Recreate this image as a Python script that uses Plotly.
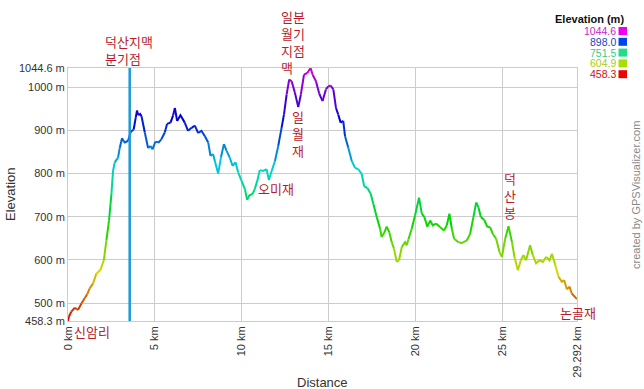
import plotly.graph_objects as go

# ---------------- data ----------------
dist_km = [0.00, 0.05, 0.19, 0.39, 0.50, 0.58, 0.77, 0.96, 1.10, 1.25, 1.44, 1.63, 1.87, 2.06, 2.21, 2.36,
           2.50, 2.59, 2.69, 2.88, 2.98, 3.11, 3.20, 3.27, 3.46, 3.61, 3.78, 3.90, 3.97, 4.05, 4.15, 4.23,
           4.42, 4.61, 4.75, 4.86, 5.03, 5.22, 5.38, 5.57, 5.70, 5.90, 6.05, 6.15, 6.28, 6.47, 6.72, 6.91,
           7.11, 7.30, 7.49, 7.68, 7.87, 8.07, 8.20, 8.35, 8.45, 8.64, 8.80, 8.97, 9.12, 9.31, 9.47, 9.64,
           9.79, 9.99, 10.18, 10.31, 10.43, 10.62, 10.75, 10.89, 11.04, 11.23, 11.43, 11.56, 11.72, 11.91,
           12.10, 12.29, 12.43, 12.58, 12.73, 12.87, 13.06, 13.25, 13.40, 13.58, 13.77, 13.96, 14.08, 14.27,
           14.46, 14.65, 14.84, 14.98, 15.11, 15.27, 15.42, 15.55, 15.69, 15.84, 15.94, 16.13, 16.33, 16.52,
           16.71, 16.90, 17.05, 17.22, 17.42, 17.57, 17.77, 17.96, 18.05, 18.19, 18.34, 18.49, 18.63, 18.76,
           18.92, 19.05, 19.21, 19.40, 19.49, 19.59, 19.78, 19.97, 20.20, 20.36, 20.51, 20.68, 20.84, 20.99,
           21.18, 21.41, 21.64, 21.80, 21.95, 22.09, 22.22, 22.47, 22.66, 22.95, 23.14, 23.33, 23.49, 23.62,
           23.76, 23.95, 24.14, 24.29, 24.45, 24.64, 24.83, 24.97, 25.16, 25.35, 25.55, 25.69, 25.89, 26.06,
           26.21, 26.36, 26.59, 26.75, 26.94, 27.13, 27.33, 27.52, 27.71, 27.85, 28.04, 28.23, 28.42, 28.55,
           28.71, 28.86, 28.99, 29.24, 29.292]
elev_m = [458.3, 468, 480, 489, 486, 484, 499, 511, 520, 534, 545, 568, 577, 599, 645, 691,
          753, 806, 826, 837, 860, 882, 875, 872, 876, 897, 902, 930, 946, 935, 938, 933,
          895, 859, 864, 856, 874, 872, 880, 895, 915, 918, 935, 952, 922, 935, 918, 899,
          906, 911, 894, 899, 887, 872, 841, 845, 829, 800, 837, 868, 853, 837, 818, 826,
          803, 783, 764, 739, 749, 753, 764, 783, 808, 806, 810, 785, 806, 829,
          864, 906, 937, 983, 1018, 1014, 987, 954, 983, 1029, 1033, 1044.6, 1029, 1014,
          985, 968, 995, 1002, 1004, 995, 952, 937, 918, 922, 887, 860, 829, 813,
          810, 799, 770, 767, 753, 730, 699, 672, 653, 662, 677, 664, 641, 626,
          595, 599, 630, 641, 634, 647, 672, 703, 744, 707, 699, 677, 691, 680,
          684, 676, 668, 680, 707, 672, 649, 641, 639, 645, 660, 699, 733, 722,
          699, 693, 676, 676, 660, 649, 618, 607, 649, 678, 641, 607, 576, 599,
          611, 599, 634, 611, 592, 599, 595, 607, 599, 614, 588, 561, 549, 553,
          532, 538, 522, 511, 509]

elev_min, elev_max = 458.3, 1044.6
total_km = 29.292
x_tickvals = [0, 5, 10, 15, 20, 25, total_km]
x_ticktext = ["0 km", "5 km", "10 km", "15 km", "20 km", "25 km", "29.292 km"]
y_tickvals = [elev_min, 500, 600, 700, 800, 900, 1000, elev_max]
y_ticktext = ["458.3 m", "500 m", "600 m", "700 m", "800 m", "900 m", "1000 m", "1044.6 m"]

legend_values = ["1044.6", "898.0", "751.5", "604.9", "458.3"]
legend_text_colors = ["#cc22cc", "#2244bb", "#33cc88", "#aacc11", "#cc1111"]
legend_box_colors = ["#ee00ee", "#0044ee", "#22dd88", "#aadd00", "#ee0000"]

branch_km = 3.55  # 덕산지맥 분기점 marker line

# ---------------- layout geometry (pixels) ----------------
W, H = 644, 389
L, R, T, B = 68, 67, 68, 68
PW, PH = W - L - R, H - T - B


def px(xp):
    return (xp - L) / PW


def py(yp):
    return (H - B - yp) / PH


def hue_of(e):
    f = (e - elev_min) / (elev_max - elev_min)
    return round(300 * f / 4) * 4


fig = go.Figure()

# gradient line: consecutive segments with the same quantized hue share a trace
segs = []
for i in range(len(dist_km) - 1):
    h = hue_of((elev_m[i] + elev_m[i + 1]) / 2)
    if segs and segs[-1][0] == h:
        segs[-1][2] = i + 1
    else:
        segs.append([h, i, i + 1])
for h, a, b in segs:
    fig.add_trace(go.Scatter(
        x=dist_km[a:b + 1], y=elev_m[a:b + 1], mode="lines",
        line=dict(color=f"hsl({h},100%,42%)", width=2),
        hoverinfo="skip", showlegend=False))

axis_font = dict(family="Arial, Liberation Sans, sans-serif", size=11, color="#333333")

fig.update_layout(
    width=W, height=H,
    margin=dict(l=L, r=R, t=T, b=B, pad=0, autoexpand=False),
    paper_bgcolor="white", plot_bgcolor="white",
    showlegend=False,
    xaxis=dict(range=[0, total_km], tickvals=x_tickvals, ticktext=x_ticktext, tickangle=-90,
               showgrid=True, gridcolor="#cccccc", gridwidth=1, zeroline=False,
               showline=True, linecolor="#cccccc", mirror=True, ticks="", tickfont=axis_font,
               fixedrange=True, automargin=False),
    yaxis=dict(range=[elev_min, elev_max], tickvals=y_tickvals, ticktext=y_ticktext,
               showgrid=True, gridcolor="#cccccc", gridwidth=1, zeroline=False,
               showline=True, linecolor="#cccccc", mirror=True, ticks="", tickfont=axis_font,
               fixedrange=True, automargin=False),
)

shapes = [dict(type="line", xref="x", yref="paper", x0=branch_km, x1=branch_km, y0=0, y1=1,
               line=dict(color="#1a9ad6", width=2.5))]

ann = []


def add_text(text, xp, yp, font, xanchor="center", angle=0):
    ann.append(dict(text=text, xref="paper", yref="paper", x=px(xp), y=py(yp),
                    xanchor=xanchor, yanchor="middle", textangle=angle,
                    showarrow=False, font=font, borderpad=0))


# axis titles and credit
add_text("Elevation", 10, 195, dict(family="Arial, Liberation Sans", size=13, color="#333333"), angle=-90)
add_text("Distance", 322, 382, dict(family="Arial, Liberation Sans", size=13, color="#333333"))
add_text("created by GPSVisualizer.com", 636, 195,
         dict(family="Arial, Liberation Sans", size=11, color="#888888"), angle=-90)

# legend
add_text("<b>Elevation (m)</b>", 589, 19, dict(family="Arial, Liberation Sans", size=11, color="#111111"))
for k, (v, tc, bc) in enumerate(zip(legend_values, legend_text_colors, legend_box_colors)):
    cy = 31 + k * 10.8
    add_text(v, 617, cy, dict(family="Arial, Liberation Sans", size=10.5, color=tc), xanchor="right")
    shapes.append(dict(type="rect", xref="paper", yref="paper", x0=px(618.5), x1=px(627),
                       y0=py(cy + 4), y1=py(cy - 4), fillcolor=bc, line=dict(width=0)))

# waypoint labels (text, pixel x, pixel y of block centre, anchor)
kfont = dict(family="Noto Sans CJK KR", size=13, color="#b81c2c")
labels = [
    ("덕산지맥<br>분기점", 104, 50, "left"),
    ("일분<br>월기<br>지점<br>맥", 280, 42, "left"),
    ("일<br>월<br>재", 298, 133, "center"),
    ("오미재", 276, 188, "center"),
    ("덕<br>산<br>봉", 509.5, 195, "center"),
    ("신암리", 92, 331, "center"),
    ("논골재", 578, 312, "center"),
]
for t, xx, yy, anc in labels:
    add_text(t, xx, yy, kfont, xanchor=anc)
    ann[-1]["align"] = "left"

fig.update_layout(shapes=shapes, annotations=ann)
fig.write_html("out.html", config={"displayModeBar": False},
               post_script="document.body.style.margin='0';")
